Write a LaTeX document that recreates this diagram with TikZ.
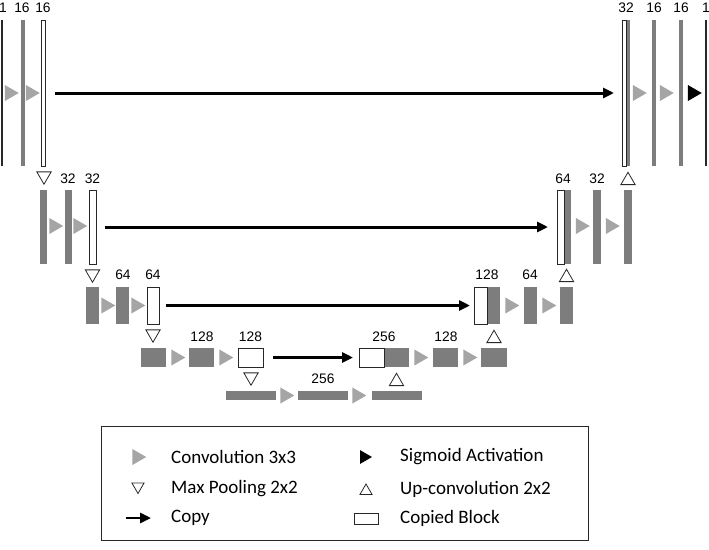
\documentclass[tikz,border=0pt]{standalone}
\usepackage{fontspec}
\setmainfont{Liberation Sans}
\newfontfamily\legfont{Carlito}
\usetikzlibrary{shapes.geometric,arrows.meta}
\definecolor{barg}{RGB}{125,125,125}
\definecolor{trig}{RGB}{165,165,165}
\definecolor{edgec}{RGB}{40,40,40}
\tikzset{
  gbar/.style={fill=barg, draw=none, inner sep=0pt, outer sep=0pt},
  dline/.style={fill=edgec, draw=none, inner sep=0pt, outer sep=0pt, minimum width=1.6},
  wbox/.style={fill=white, draw=edgec, line width=0.9pt, inner sep=0pt, outer sep=0pt},
  lvA/.style={minimum height=146},
  lvB/.style={minimum height=74},
  lvC/.style={minimum height=37},
  lvD/.style={minimum height=19},
  lvE/.style={minimum height=9},
  conv/.style={regular polygon, regular polygon sides=3, shape border rotate=-90,
    fill=trig, draw=none, minimum size=18.5, inner sep=0pt},
  sigm/.style={conv, fill=black},
  pool/.style={regular polygon, regular polygon sides=3, shape border rotate=180,
    fill=white, draw=edgec, line width=0.8pt, minimum size=16.5, inner sep=0pt},
  upc/.style={regular polygon, regular polygon sides=3,
    fill=white, draw=edgec, line width=0.8pt, minimum size=16.5, inner sep=0pt},
  lab/.style={font=\fontsize{13.8}{15}\selectfont, inner sep=0pt},
  cpy/.style={draw=black, line width=3pt, -{Triangle[length=11pt,width=10pt]}},
  legt/.style={font=\legfont\fontsize{19}{22}\selectfont, inner sep=0pt, anchor=west},
}
\begin{document}
\begin{tikzpicture}[x=1pt,y=-1pt]
\useasboundingbox (0,0) rectangle (709,549);
% ---------- level 1 ----------
\node[dline, lvA] (A1) at (2,93) {};
\node[gbar, lvA, minimum width=4] (A2) at (22.5,93) {};
\node[wbox, lvA, minimum width=4] (A3) at (43.5,93) {};
\node[lab] (tA1) at (3,8) {1};
\node[lab] (tA2) at (22,8) {16};
\node[lab] (tA3) at (43,8) {16};
\node[conv] (cA1) at (9.5,93) {};
\node[conv] (cA2) at (30.5,93) {};
\node[gbar, lvA, minimum width=4] (RA1g) at (628,93) {};
\node[wbox, lvA, minimum width=4] (RA1) at (624,93) {};
\node[lab] (tRA1) at (626,8) {32};
\node[conv] (cRA1) at (637.5,93) {};
\node[gbar, lvA, minimum width=4] (RA2) at (654,93) {};
\node[lab] (tRA2) at (654,8) {16};
\node[conv] (cRA2) at (664.5,93) {};
\node[gbar, lvA, minimum width=4] (RA3) at (681,93) {};
\node[lab] (tRA3) at (681,8) {16};
\node[sigm] (sRA) at (692.5,93) {};
\node[dline, lvA] (RA4) at (706,93) {};
\node[lab] (tRA4) at (706,8) {1};
\draw[cpy, shorten <=9.5pt, shorten >=8pt] (A3) -- (RA1);
\node[pool] (pA) at (44,176) {};
\node[upc] (uA) at (628,180.5) {};
% ---------- level 2 ----------
\node[gbar, lvB, minimum width=7] (B1) at (43.5,227) {};
\node[gbar, lvB, minimum width=7] (B2) at (68,227) {};
\node[wbox, lvB, minimum width=7] (B3) at (92.5,227) {};
\node[lab] (tB2) at (68,178.5) {32};
\node[lab] (tB3) at (92.5,178.5) {32};
\node[conv] (cB1) at (54,226) {};
\node[conv] (cB2) at (78,226) {};
\node[gbar, lvB, minimum width=7] (RB1g) at (567.5,227) {};
\node[wbox, lvB, minimum width=7] (RB1) at (560.5,227) {};
\node[lab] (tRB1) at (563,178.5) {64};
\node[conv] (cRB1) at (580.5,226) {};
\node[gbar, lvB, minimum width=8] (RB2) at (597,227) {};
\node[lab] (tRB2) at (597,178.5) {32};
\node[conv] (cRB2) at (610.5,226) {};
\node[gbar, lvB, minimum width=8] (RB3) at (628,227) {};
\draw[cpy, shorten <=9pt, shorten >=9pt] (B3) -- (RB1);
\node[pool] (pB) at (92.5,274) {};
\node[upc] (uB) at (566.5,277.5) {};
% ---------- level 3 ----------
\node[gbar, lvC, minimum width=13] (C1) at (92.5,305.5) {};
\node[gbar, lvC, minimum width=13] (C2) at (122.5,305.5) {};
\node[wbox, lvC, minimum width=12] (C3) at (153,305.5) {};
\node[lab] (tC2) at (123,275) {64};
\node[lab] (tC3) at (153,275) {64};
\node[conv] (cC1) at (106,305.5) {};
\node[conv] (cC2) at (136,305.5) {};
\node[gbar, lvC, minimum width=13] (RC1g) at (493.5,305.5) {};
\node[wbox, lvC, minimum width=13] (RC1) at (480.5,305.5) {};
\node[lab] (tRC1) at (487,275) {128};
\node[conv] (cRC1) at (510,305.5) {};
\node[gbar, lvC, minimum width=13] (RC2) at (530,305.5) {};
\node[lab] (tRC2) at (530,275) {64};
\node[conv] (cRC2) at (547,305.5) {};
\node[gbar, lvC, minimum width=13] (RC3) at (566.5,305.5) {};
\draw[cpy, shorten <=7pt, shorten >=4pt] (C3) -- (RC1);
\node[pool] (pC) at (153,334) {};
\node[upc] (uC) at (494,338.5) {};
% ---------- level 4 ----------
\node[gbar, lvD, minimum width=25] (D1) at (153.5,357.5) {};
\node[gbar, lvD, minimum width=25] (D2) at (201.5,357.5) {};
\node[wbox, lvD, minimum width=25] (D3) at (250.5,357.5) {};
\node[lab] (tD2) at (202,337) {128};
\node[lab] (tD3) at (250.5,337) {128};
\node[conv] (cD1) at (176,357.5) {};
\node[conv] (cD2) at (224,357.5) {};
\node[gbar, lvD, minimum width=25] (RD1g) at (396.5,357.5) {};
\node[wbox, lvD, minimum width=25] (RD1) at (371.5,357.5) {};
\node[lab] (tRD1) at (384,337) {256};
\node[conv] (cRD1) at (419,357.5) {};
\node[gbar, lvD, minimum width=25] (RD2) at (445.5,357.5) {};
\node[lab] (tRD2) at (446,337) {128};
\node[conv] (cRD2) at (468,357.5) {};
\node[gbar, lvD, minimum width=26] (RD3) at (494,357.5) {};
\draw[cpy, shorten <=10pt, shorten >=6pt] (D3) -- (RD1);
\node[pool] (pD) at (251,377) {};
\node[upc] (uD) at (396.5,381.5) {};
% ---------- level 5 ----------
\node[gbar, lvE, minimum width=50] (E1) at (251,395.5) {};
\node[conv] (cE1) at (285,395.5) {};
\node[gbar, lvE, minimum width=50] (E2) at (323,395.5) {};
\node[lab] (tE2) at (323,379) {256};
\node[conv] (cE2) at (357,395.5) {};
\node[gbar, lvE, minimum width=50] (E3) at (397,395.5) {};
% ---------- legend ----------
\node[draw=edgec, line width=1pt, minimum width=487, minimum height=114, inner sep=0pt] (leg) at (344.5,483) {};
\node[conv] (lg1) at (137,457) {};
\node[legt] (lt1) at (171,457) {Convolution 3x3};
\node[pool, minimum size=14] (lg2) at (138,486.5) {};
\node[legt] (lt2) at (171,489) {Max Pooling 2x2};
\coordinate (la) at (126,518);
\coordinate (lb) at (151,518);
\draw[cpy, line width=2.6pt] (la) -- (lb);
\node[legt] (lt3) at (171,518) {Copy};
\node[sigm, minimum size=16] (lg4) at (364,457) {};
\node[legt] (lt4) at (400,457) {Sigmoid Activation};
\node[upc, minimum size=14] (lg5) at (366,491) {};
\node[legt] (lt5) at (400,489) {Up-convolution 2x2};
\node[wbox, line width=0.8pt, minimum width=24, minimum height=11] (lg6) at (366,518.5) {};
\node[legt] (lt6) at (400,518) {Copied Block};
\end{tikzpicture}
\end{document}
